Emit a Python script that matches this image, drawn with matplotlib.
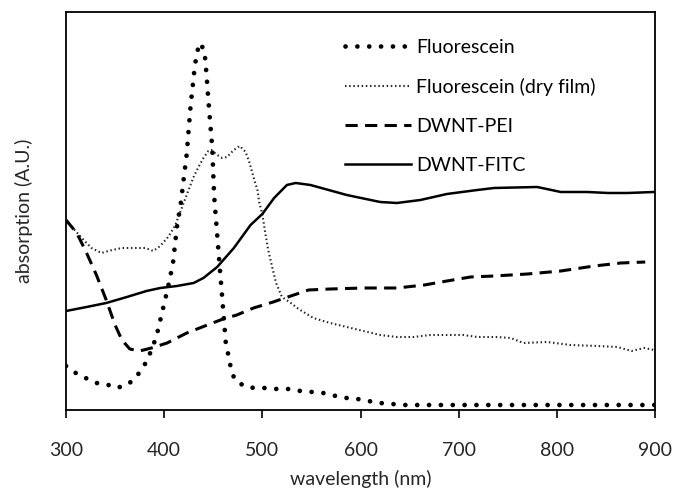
import matplotlib
matplotlib.use("Agg")
import matplotlib.pyplot as plt

plt.rcParams['font.family'] = ['Lato', 'DejaVu Sans']

# absorption spectra, arbitrary units
fl_nm = [300, 310, 320, 331, 341, 350, 360, 369, 376, 383, 392, 398, 404, 409, 413, 417,
         420, 423, 425, 427, 429, 431, 433, 436, 441, 443, 445, 446, 447, 449, 450, 451,
         453, 455, 457, 459, 461, 462, 463, 466, 468, 472, 483, 493, 504, 515, 527, 539,
         551, 562, 575, 586, 597, 608, 620, 632, 644, 700, 760, 820, 880, 900]
fl_abs = [44, 37, 32, 27, 26, 22, 24, 30, 39, 50, 73, 98, 123, 147, 183, 207,
          232, 256, 281, 305, 323, 342, 355, 367, 360, 337, 311, 298, 286, 262, 237, 213,
          188, 163, 138, 114, 89, 77, 64, 53, 41, 30, 23, 22, 22, 21, 21, 19,
          18, 17, 14, 12, 11, 9, 7, 6, 5, 5, 5, 5, 5, 5]

film_nm = [300, 307, 318, 326, 336, 347, 357, 369, 381, 389, 396, 404, 411, 416, 421, 426,
           430, 435, 440, 445, 448, 454, 459, 464, 471, 477, 483, 487, 491, 495, 497, 500,
           503, 506, 510, 514, 520, 529, 537, 547, 552, 569, 586, 603, 620, 637, 654, 671,
           688, 705, 719, 739, 753, 766, 790, 814, 841, 862, 876, 889, 899]
film_abs = [190, 182, 170, 162, 157, 160, 162, 162, 162, 159, 164, 173, 184, 197, 210, 223,
            233, 243, 252, 259, 260, 255, 252, 253, 260, 264, 258, 247, 233, 220, 207, 196,
            177, 160, 143, 127, 113, 107, 101, 95, 92, 87, 83, 79, 75, 73, 73, 75,
            75, 75, 73, 73, 72, 67, 68, 65, 64, 63, 59, 62, 60]

pei_nm = [300, 311, 321, 331, 341, 350, 357, 365, 375, 387, 403, 423, 444, 460, 474, 491,
          511, 532, 547, 569, 603, 637, 665, 688, 712, 736, 770, 804, 838, 865, 890]
pei_abs = [190, 177, 157, 135, 110, 85, 70, 61, 59, 62, 67, 77, 85, 91, 95, 102,
           108, 115, 120, 121, 122, 122, 125, 129, 133, 134, 136, 139, 144, 147, 148]

fitc_nm = [300, 321, 341, 362, 382, 396, 413, 430, 440, 454, 471, 488, 500, 512, 525, 534,
           549, 586, 620, 637, 661, 688, 719, 736, 780, 804, 831, 852, 872, 899]
fitc_abs = [99, 103, 107, 113, 119, 122, 124, 127, 132, 143, 162, 185, 196, 212, 225, 227,
            225, 215, 208, 207, 210, 216, 220, 222, 223, 218, 218, 217, 217, 218]

fig = plt.figure(figsize=(6.76, 4.95), dpi=100)
ax = fig.add_axes([0.0976, 0.1717, 0.8714, 0.8041])

l1, = ax.plot(fl_nm, fl_abs, color='black', lw=3.4, linestyle=(0, (0.01, 2.5)),
              dash_capstyle='round', label='Fluorescein')
l2, = ax.plot(film_nm, film_abs, color='#222222', lw=1.5, linestyle=(0, (0.7, 1.3)),
              label='Fluorescein (dry film)')
l3, = ax.plot(pei_nm, pei_abs, color='black', lw=2.2, linestyle=(0, (4.0, 2.4)),
              label='DWNT-PEI')
l4, = ax.plot(fitc_nm, fitc_abs, color='black', lw=1.8, label='DWNT-FITC')

ax.set_xlim(300, 900)
ax.set_ylim(0, 398)
ax.set_xticks([300, 400, 500, 600, 700, 800, 900])
ax.set_yticks([])
ax.tick_params(axis='x', direction='out', length=6, width=1.2, labelsize=14,
               labelcolor='#262626', pad=17)
for s in ax.spines.values():
    s.set_linewidth(1.3)

ax.set_xlabel('wavelength (nm)', fontsize=14, color='#262626', labelpad=8)
ax.set_ylabel('absorption (A.U.)', fontsize=14, color='#262626', labelpad=24)

ax.legend(handles=[l1, l2, l3, l4], loc='upper left', bbox_to_anchor=(0.441, 0.982),
          frameon=False, fontsize=14, handlelength=3.4, handletextpad=0.25,
          labelspacing=1.13, borderaxespad=0.6)

fig.savefig('out.png', dpi=100)
